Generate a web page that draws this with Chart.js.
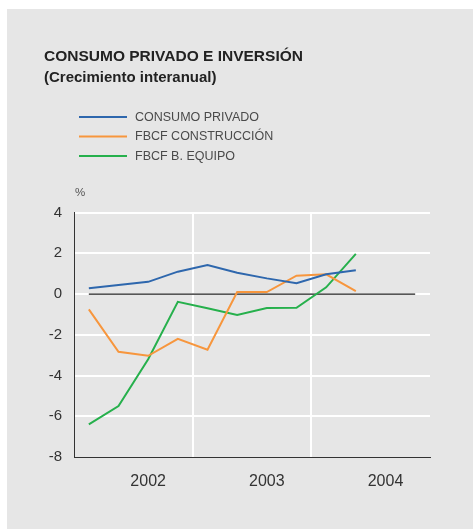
<!DOCTYPE html>
<html>
<head>
<meta charset="utf-8">
<script src="https://cdn.jsdelivr.net/npm/chart.js@4"></script>
<style>
  html, body { margin: 0; padding: 0; background: #fff; }
  canvas { display: block; }
</style>
</head>
<body>
<canvas id="chart" width="473" height="529"></canvas>
<script>
const quarters = ['I-02', 'II-02', 'III-02', 'IV-02', 'I-03', 'II-03', 'III-03', 'IV-03', 'I-04', 'II-04', 'III-04', 'IV-04'];
const years = ['2002', '2003', '2004'];

const consumoPrivado = [0.28, 0.44, 0.6, 1.1, 1.43, 1.05, 0.77, 0.53, 0.97, 1.17];
const fbcfConstruccion = [-0.75, -2.83, -3.03, -2.2, -2.73, 0.1, 0.1, 0.9, 0.97, 0.15];
const fbcfEquipo = [-6.4, -5.5, -3.2, -0.38, -0.7, -1.03, -0.69, -0.67, 0.33, 1.97];
const zeroLine = [0, 0, 0, 0, 0, 0, 0, 0, 0, 0, 0, 0];

const FONT = "'Liberation Sans', Arial, Helvetica, sans-serif";
const BG = '#e6e6e6';

// grey panel, "%" and the stacked legend
const decor = {
  id: 'decor',
  beforeDraw(chart) {
    const ctx = chart.ctx;
    ctx.save();
    ctx.fillStyle = BG;
    ctx.fillRect(7, 9, chart.width - 7, chart.height - 9);
    ctx.restore();
  },
  afterDraw(chart) {
    const ctx = chart.ctx;
    ctx.save();
    ctx.fillStyle = '#555';
    ctx.font = '11.5px ' + FONT;
    ctx.textBaseline = 'middle';
    ctx.textAlign = 'left';
    ctx.fillText('%', chart.chartArea.left + 1, 193);

    let y = 117;
    chart.data.datasets.forEach(ds => {
      if (!ds.label) return;
      ctx.strokeStyle = ds.borderColor;
      ctx.lineWidth = 2;
      ctx.beginPath();
      ctx.moveTo(79, y);
      ctx.lineTo(127, y);
      ctx.stroke();
      ctx.fillStyle = '#4a4a4a';
      ctx.font = '12.5px ' + FONT;
      ctx.fillText(ds.label, 135, y + 0.5);
      y += 19.5;
    });
    ctx.restore();
  }
};

new Chart(document.getElementById('chart'), {
  type: 'line',
  data: {
    labels: quarters,
    datasets: [
      { label: 'CONSUMO PRIVADO', data: consumoPrivado, borderColor: '#2e67ad', borderWidth: 2 },
      { label: 'FBCF CONSTRUCCIÓN', data: fbcfConstruccion, borderColor: '#f7963d', borderWidth: 2 },
      { label: 'FBCF B. EQUIPO', data: fbcfEquipo, borderColor: '#26b04c', borderWidth: 2 },
      { label: '', data: zeroLine, borderColor: '#1e1e1e', borderWidth: 1.3, order: 10 }
    ]
  },
  options: {
    responsive: false,
    animation: false,
    devicePixelRatio: 1,
    layout: { padding: { left: 44, right: 43, top: 0, bottom: 32 } },
    elements: {
      point: { radius: 0 },
      line: { tension: 0, fill: false, borderCapStyle: 'butt' }
    },
    plugins: {
      legend: { display: false },
      tooltip: { enabled: false },
      title: {
        display: true,
        text: 'CONSUMO PRIVADO E INVERSIÓN',
        align: 'start',
        color: '#222',
        font: { family: FONT, size: 15.5, weight: 'bold' },
        padding: { top: 47, bottom: 3 }
      },
      subtitle: {
        display: true,
        text: '(Crecimiento interanual)',
        align: 'start',
        color: '#222',
        font: { family: FONT, size: 15, weight: 'bold' },
        padding: { top: 0, bottom: 126 }
      }
    },
    scales: {
      x: {
        type: 'category',
        offset: true,
        afterFit: s => { s.height = 40; },
        grid: {
          offset: true,
          drawTicks: false,
          lineWidth: 2,
          color: c => (c.index > 0 && c.index % 4 === 0) ? '#fff' : 'rgba(0,0,0,0)'
        },
        border: { color: '#333', width: 1 },
        ticks: {
          autoSkip: false,
          maxRotation: 0,
          padding: 15,
          color: '#333',
          font: { family: FONT, size: 16 },
          callback: (v, i) => i % 4 === 2 ? years[Math.floor(i / 4)] : ''
        }
      },
      y: {
        min: -8,
        max: 4,
        afterFit: s => { s.width = 30; },
        grid: {
          drawTicks: false,
          lineWidth: 2,
          color: c => c.tick && c.tick.value === -8 ? 'rgba(0,0,0,0)' : '#fff'
        },
        border: { color: '#333', width: 1 },
        ticks: {
          stepSize: 2,
          padding: 12,
          color: '#333',
          font: { family: FONT, size: 15 }
        }
      }
    }
  },
  plugins: [decor]
});
</script>
</body>
</html>
